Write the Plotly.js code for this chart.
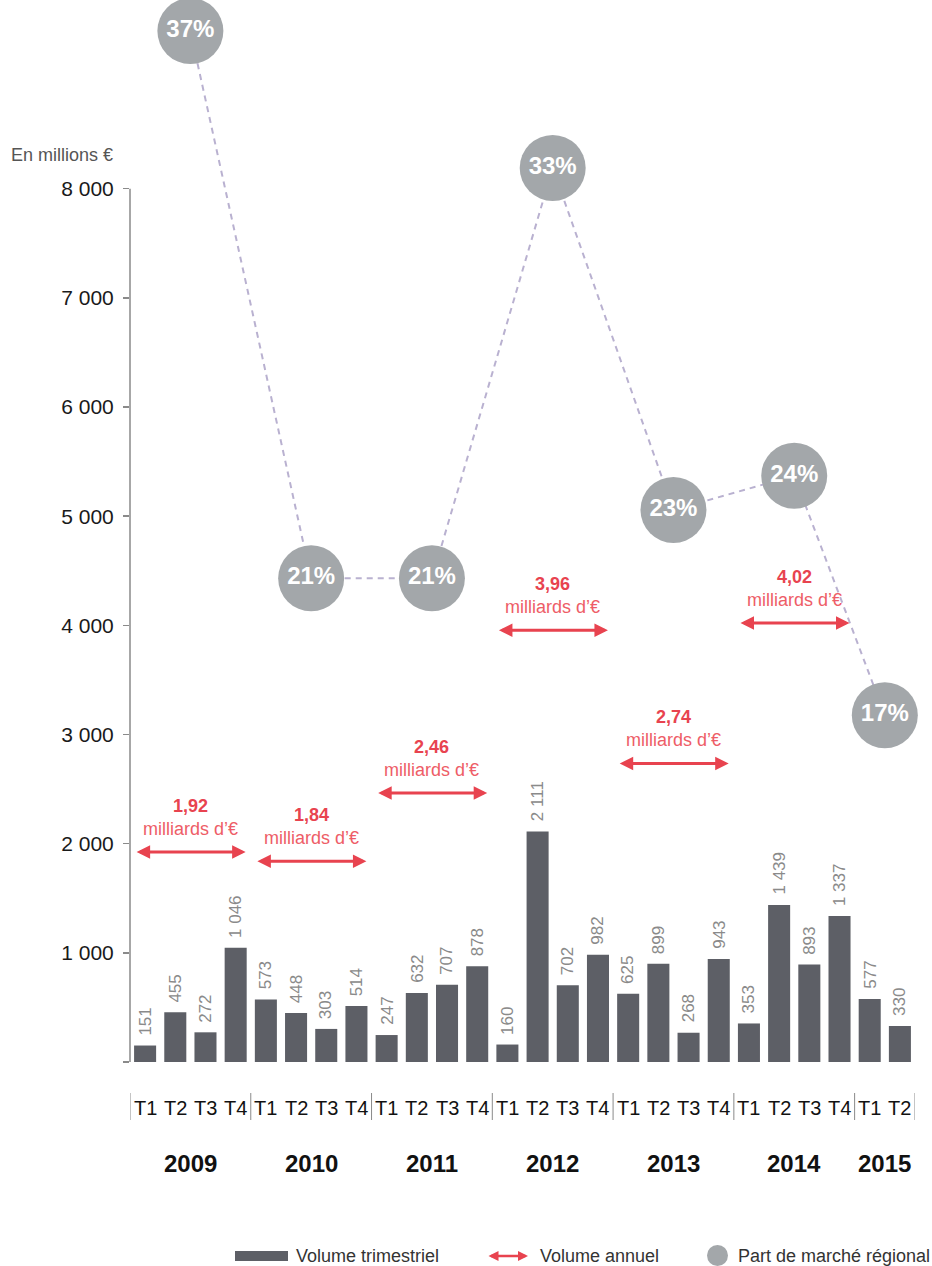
<!DOCTYPE html>
<html>
<head>
<meta charset="utf-8">
<script src="https://cdn.plot.ly/plotly-3.0.1.min.js"></script>
<style>
  html, body { margin: 0; padding: 0; background: #fff; }
  #chart { width: 932px; height: 1266px; }
</style>
</head>
<body>
<div id="chart"></div>
<script>
// Quarterly investment volume (millions €), 2009 T1 – 2015 T2
const quarterLabels = ['T1','T2','T3','T4','T1','T2','T3','T4','T1','T2','T3','T4',
                       'T1','T2','T3','T4','T1','T2','T3','T4','T1','T2','T3','T4',
                       'T1','T2'];
const quarterlyVolume = [151, 455, 272, 1046,
                         573, 448, 303, 514,
                         247, 632, 707, 878,
                         160, 2111, 702, 982,
                         625, 899, 268, 943,
                         353, 1439, 893, 1337,
                         577, 330];
const years = ['2009','2010','2011','2012','2013','2014','2015'];
const quartersPerYear = [4, 4, 4, 4, 4, 4, 2];
const completeYears = [true, true, true, true, true, true, false];
// Regional market share (%) per year
const marketShare = [37, 21, 21, 33, 23, 24, 17];
// Y axis ticks
const yTickValues = [0, 1000, 2000, 3000, 4000, 5000, 6000, 7000, 8000];

const fmtThousands = n => String(n).replace(/\B(?=(\d{3})+(?!\d))/g, ' ');
const fmtBillions = n => (Math.round(n / 10) / 100).toFixed(2).replace('.', ',');

const BAR = '#5d5f66';
const RED = '#e8434f';
const RED_LIGHT = '#ee5d67';
const SHARE = '#a3a7aa';
const FONT = 'Liberation Sans, Arial, Helvetica, sans-serif';

// Plot geometry (pixels) for placing decorations below the plot area
const W = 932, H = 1266;
const M = { l: 130, r: 17, t: 14, b: 204 };
const plotW = W - M.l - M.r, plotH = H - M.t - M.b;
const px = x => (x - M.l) / plotW;
const py = y => (H - M.b - y) / plotH;

const xIdx = quarterlyVolume.map((_, i) => i);

// Year spans
const yearStart = [];
let acc = 0;
quartersPerYear.forEach(n => { yearStart.push(acc); acc += n; });
const yearCenter = yearStart.map((s, k) => s + (quartersPerYear[k] - 1) / 2);
const yearTotal = yearStart.map((s, k) =>
  quarterlyVolume.slice(s, s + quartersPerYear[k]).reduce((a, b) => a + b, 0));

const bars = {
  type: 'bar',
  x: xIdx,
  y: quarterlyVolume,
  width: 0.73,
  marker: { color: BAR },
  hoverinfo: 'skip'
};

const share = {
  type: 'scatter',
  mode: 'lines+markers+text',
  x: yearCenter,
  y: marketShare,
  yaxis: 'y2',
  text: marketShare.map(v => v + '%'),
  textposition: 'middle center',
  textfont: { family: FONT, size: 24, color: '#ffffff', weight: 'bold' },
  line: { color: '#b9b1d0', width: 2, dash: '6px,5px' },
  marker: { size: 66, color: SHARE },
  cliponaxis: false,
  hoverinfo: 'skip'
};

const annotations = [];
const shapes = [];

// Value labels above each bar
quarterlyVolume.forEach((v, i) => {
  annotations.push({
    x: i, y: v, xref: 'x', yref: 'y',
    text: fmtThousands(v), textangle: -90,
    showarrow: false, xanchor: 'center', yanchor: 'bottom', yshift: 8,
    font: { family: FONT, size: 17, color: '#8a8a8a' }
  });
});

// Annual volume double arrows with labels
years.forEach((yr, k) => {
  if (!completeYears[k]) return;
  const s = yearStart[k], e = s + quartersPerYear[k] - 1;
  const total = yearTotal[k];
  annotations.push({
    x: e + 0.33, y: total, xref: 'x', yref: 'y',
    ax: s - 0.33, ay: total, axref: 'x', ayref: 'y',
    text: '', showarrow: true, arrowside: 'end+start',
    arrowhead: 2, arrowsize: 0.9, arrowwidth: 3, arrowcolor: RED,
    standoff: 0, startstandoff: 0
  });
  annotations.push({
    x: yearCenter[k], y: total, xref: 'x', yref: 'y',
    text: '<b>' + fmtBillions(total) + '</b><br><span style="color:' + RED_LIGHT + '">milliards d’€</span>',
    showarrow: false, xanchor: 'center', yanchor: 'bottom', yshift: 11,
    font: { family: FONT, size: 18, color: RED }
  });
});

// Quarter labels, year separators and year labels
quarterLabels.forEach((q, i) => {
  annotations.push({
    x: i, y: py(1108), xref: 'x', yref: 'paper',
    text: q, showarrow: false, xanchor: 'center', yanchor: 'middle',
    font: { family: FONT, size: 20, color: '#111' }
  });
});
yearStart.concat([quarterlyVolume.length]).forEach(b => {
  shapes.push({
    type: 'line', xref: 'x', yref: 'paper',
    x0: b - 0.5, x1: b - 0.5, y0: py(1093), y1: py(1120),
    line: { color: '#8a8a8a', width: 1 }
  });
});
years.forEach((yr, k) => {
  annotations.push({
    x: yearCenter[k], y: py(1163), xref: 'x', yref: 'paper',
    text: '<b>' + yr + '</b>', showarrow: false, xanchor: 'center', yanchor: 'middle',
    font: { family: FONT, size: 24, color: '#111' }
  });
});

// Vertical axis line from 0 to the top tick
shapes.push({
  type: 'line', xref: 'paper', yref: 'y',
  x0: 0, x1: 0, y0: 0, y1: yTickValues[yTickValues.length - 1],
  line: { color: '#8a8a8a', width: 1.5 }
});

// Unit label
annotations.push({
  x: px(9), y: py(155), xref: 'paper', yref: 'paper',
  text: 'En millions €', showarrow: false, xanchor: 'left', yanchor: 'middle',
  font: { family: FONT, size: 18, color: '#555' }
});

// Legend
shapes.push({
  type: 'rect', xref: 'paper', yref: 'paper',
  x0: px(235), x1: px(288), y0: py(1261), y1: py(1251),
  fillcolor: BAR, line: { width: 0 }
});
annotations.push({
  x: px(294), y: py(1256), xref: 'paper', yref: 'paper',
  text: 'Volume trimestriel', showarrow: false, xanchor: 'left', yanchor: 'middle',
  font: { family: FONT, size: 18, color: '#333' }
});
annotations.push({
  x: px(528), y: py(1256), xref: 'paper', yref: 'paper',
  ax: -41, ay: 0, axref: 'pixel', ayref: 'pixel',
  text: '', showarrow: true, arrowside: 'end+start',
  arrowhead: 2, arrowsize: 0.8, arrowwidth: 2.5, arrowcolor: RED,
  standoff: 0, startstandoff: 0
});
annotations.push({
  x: px(538), y: py(1256), xref: 'paper', yref: 'paper',
  text: 'Volume annuel', showarrow: false, xanchor: 'left', yanchor: 'middle',
  font: { family: FONT, size: 18, color: '#333' }
});
shapes.push({
  type: 'circle', xref: 'paper', yref: 'paper',
  x0: px(707), x1: px(728), y0: py(1266), y1: py(1245),
  fillcolor: SHARE, line: { width: 0 }
});
annotations.push({
  x: px(736), y: py(1256), xref: 'paper', yref: 'paper',
  text: 'Part de marché régional', showarrow: false, xanchor: 'left', yanchor: 'middle',
  font: { family: FONT, size: 18, color: '#333' }
});

const layout = {
  width: W, height: H,
  margin: M,
  paper_bgcolor: '#ffffff',
  plot_bgcolor: '#ffffff',
  font: { family: FONT, color: '#222' },
  showlegend: false,
  xaxis: {
    range: [-0.5, quarterlyVolume.length - 0.5],
    showticklabels: false, showgrid: false, zeroline: false, showline: false, ticks: ''
  },
  yaxis: {
    range: [0, 9600],
    tickvals: yTickValues,
    ticktext: yTickValues.map(v => v === 0 ? '' : fmtThousands(v)),
    ticks: 'outside', ticklen: 6, tickwidth: 1.5, tickcolor: '#8a8a8a',
    ticklabelstandoff: 5,
    tickfont: { family: FONT, size: 21, color: '#1a1a1a' },
    showgrid: false, zeroline: false, showline: false
  },
  yaxis2: {
    overlaying: 'y',
    range: [6.86, 37.5],
    visible: false
  },
  shapes: shapes,
  annotations: annotations
};

Plotly.newPlot('chart', [bars, share], layout, { displayModeBar: false, staticPlot: true });
</script>
</body>
</html>
